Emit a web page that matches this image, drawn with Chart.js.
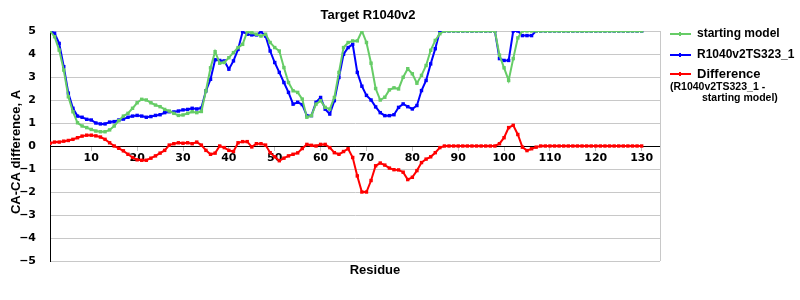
<!DOCTYPE html>
<html>
<head>
<meta charset="utf-8">
<script src="https://cdn.jsdelivr.net/npm/chart.js@4"></script>
<style>
  html, body { margin: 0; padding: 0; background: #fff; }
  #wrap { width: 800px; height: 300px; }
</style>
</head>
<body>
<div id="wrap"><canvas id="chart" width="800" height="300"></canvas></div>
<script>
var residues = [];
for (var i = 1; i <= 130; i++) residues.push(i);

var startingModel = [
  5.0, 4.75, 4.17, 3.3, 2.14, 1.49, 1.01, 0.87, 0.8, 0.72,
  0.65, 0.62, 0.62, 0.7, 0.87, 1.1, 1.3, 1.42, 1.64, 1.88,
  2.03, 2.0, 1.88, 1.78, 1.71, 1.59, 1.52, 1.42, 1.33, 1.35,
  1.42, 1.49, 1.45, 1.5, 2.4, 3.4, 4.1, 3.6, 3.63, 3.84,
  4.06, 4.28, 4.42, 4.97, 4.93, 4.86, 4.78, 4.86, 4.5, 4.28,
  4.13, 3.41, 2.76, 2.4, 2.33, 2.04, 1.25, 1.32, 1.82, 1.97,
  1.68, 1.6, 2.11, 3.2, 4.28, 4.5, 4.57, 4.57, 5.0, 4.5,
  3.6, 2.5, 2.0, 2.12, 2.44, 2.53, 2.48, 2.99, 3.36, 3.14,
  2.73, 3.07, 3.5, 4.16, 4.59, 4.88, 5, 5, 5, 5,
  5, 5, 5, 5, 5, 5, 5, 5, 3.95, 3.4,
  2.85, 3.8, 4.7, 5, 5, 5, 5, 5, 5, 5,
  5, 5, 5, 5, 5, 5, 5, 5, 5, 5,
  5, 5, 5, 5, 5, 5, 5, 5, 5, 5
];

var modelTS323 = [
  5.0, 4.9, 4.46, 3.45, 2.3, 1.64, 1.3, 1.25, 1.16, 1.13,
  1.0, 0.96, 0.96, 1.04, 1.06, 1.13, 1.17, 1.25, 1.3, 1.33,
  1.3, 1.25, 1.28, 1.33, 1.36, 1.45, 1.49, 1.48, 1.52, 1.57,
  1.59, 1.64, 1.61, 1.65, 2.4, 2.9, 3.75, 3.72, 3.7, 3.34,
  3.7, 4.2, 4.97, 4.86, 4.83, 4.83, 4.97, 4.78, 4.13, 3.63,
  3.2, 2.76, 2.33, 1.82, 1.9, 1.8, 1.32, 1.32, 1.9, 2.11,
  1.6, 1.39, 1.97, 2.98, 3.99, 4.28, 4.42, 3.2, 2.6, 2.2,
  2.0, 1.7, 1.45, 1.32, 1.32, 1.36, 1.68, 1.83, 1.71, 1.61,
  1.76, 2.41, 2.85, 3.57, 4.23, 5, 5, 5, 5, 5,
  5, 5, 5, 5, 5, 5, 5, 5, 3.8, 3.72,
  3.72, 5, 5, 4.8, 4.8, 4.8, 5, 5, 5, 5,
  5, 5, 5, 5, 5, 5, 5, 5, 5, 5,
  5, 5, 5, 5, 5, 5, 5, 5, 5, 5
];

var difference = [
  0.12, 0.17, 0.17, 0.21, 0.24, 0.29, 0.36, 0.43, 0.47, 0.47,
  0.44, 0.39, 0.29, 0.14, 0.0, -0.1, -0.21, -0.36, -0.5, -0.6,
  -0.62, -0.62, -0.53, -0.43, -0.31, -0.19, 0.04, 0.1, 0.14, 0.12,
  0.14, 0.1, 0.17, 0.04, -0.19, -0.36, -0.31, 0.0, -0.07, -0.19,
  -0.24, 0.14, 0.19, 0.19, -0.04, 0.1, 0.1, 0.04, -0.29, -0.47,
  -0.64, -0.53, -0.43, -0.36, -0.3, -0.11, 0.07, 0.03, 0.0, 0.07,
  0.07, -0.07, -0.29, -0.36, -0.24, -0.12, -0.5, -1.3, -2.0, -2.0,
  -1.5, -0.86, -0.74, -0.83, -0.96, -1.03, -1.04, -1.14, -1.46, -1.36,
  -1.07, -0.72, -0.57, -0.47, -0.29, -0.07, 0, 0, 0, 0,
  0, 0, 0, 0, 0, 0, 0, 0, 0.1, 0.36,
  0.8, 0.9, 0.5, -0.05, -0.2, -0.12, -0.05, 0, 0, 0,
  0, 0, 0, 0, 0, 0, 0, 0, 0, 0,
  0, 0, 0, 0, 0, 0, 0, 0, 0, 0
];

var xTicks = [10, 20, 30, 40, 50, 60, 70, 80, 90, 100, 110, 120, 130];

var seriesNames = ['starting model', 'R1040v2TS323_1', 'Difference'];
var seriesColors = ['#66cc66', '#0000ff', '#ff0000'];

function toPoints(values) {
  return values.map(function (v, i) { return { x: residues[i], y: v }; });
}

function makeSet(idx, values) {
  return {
    label: seriesNames[idx],
    data: toPoints(values),
    borderColor: seriesColors[idx],
    backgroundColor: seriesColors[idx],
    borderWidth: 2,
    pointRadius: 1,
    pointHoverRadius: 1,
    pointStyle: 'rect',
    tension: 0,
    fill: false
  };
}

var tickFont = { family: 'DejaVu Sans', size: 11, weight: 'bold' };
var labelFont = 'Liberation Sans, Arial, sans-serif';

var textPlugin = {
  id: 'texts',
  afterDraw: function (chart) {
    var ctx = chart.ctx;
    var area = chart.chartArea;
    ctx.save();

    // right border of the plot
    ctx.strokeStyle = '#c8c8c8';
    ctx.lineWidth = 1;
    ctx.beginPath();
    ctx.moveTo(area.right + 0.5, area.top);
    ctx.lineTo(area.right + 0.5, area.bottom);
    ctx.stroke();

    ctx.fillStyle = '#000';
    ctx.textBaseline = 'middle';
    ctx.textAlign = 'center';
    ctx.font = 'bold 13px ' + labelFont;
    ctx.fillText('Target R1040v2', 368, 15);
    ctx.fillText('Residue', 375, 270);

    ctx.save();
    ctx.translate(16, 152);
    ctx.rotate(-Math.PI / 2);
    ctx.fillText('CA-CA difference, A', 0, 0);
    ctx.restore();

    // legend
    var rows = [34, 55, 74];
    for (var k = 0; k < 3; k++) {
      ctx.strokeStyle = seriesColors[k];
      ctx.fillStyle = seriesColors[k];
      ctx.lineWidth = 2;
      ctx.beginPath();
      ctx.moveTo(670, rows[k]);
      ctx.lineTo(691, rows[k]);
      ctx.stroke();
      ctx.fillRect(679, rows[k] - 2, 2, 4);
      ctx.fillStyle = '#000';
      ctx.textAlign = 'left';
      ctx.font = 'bold ' + (k === 2 ? 13 : 12) + 'px ' + labelFont;
      ctx.fillText(seriesNames[k], 697, rows[k]);
    }
    ctx.font = 'bold 10.5px ' + labelFont;
    ctx.fillText('(R1040v2TS323_1 -', 670, 87);
    ctx.fillText('starting model)', 702, 98);
    ctx.restore();
  }
};

new Chart(document.getElementById('chart').getContext('2d'), {
  type: 'line',
  data: {
    datasets: [
      makeSet(0, startingModel),
      makeSet(1, modelTS323),
      makeSet(2, difference)
    ]
  },
  options: {
    responsive: false,
    animation: false,
    layout: { padding: { left: 0, right: 140, top: 31, bottom: 39 } },
    plugins: {
      legend: { display: false },
      title: { display: false },
      tooltip: { enabled: false }
    },
    scales: {
      x: {
        type: 'linear',
        position: { y: 0 },
        min: 1,
        max: 134,
        afterBuildTicks: function (scale) {
          scale.ticks = xTicks.map(function (v) { return { value: v }; });
        },
        afterFit: function (scale) { scale.height = 0; },
        border: { display: true, color: '#000', width: 1 },
        grid: { drawOnChartArea: false, drawTicks: true, tickLength: 4, color: '#c0c0c0' },
        ticks: { font: tickFont, color: '#000', padding: 2, maxRotation: 0, autoSkip: false }
      },
      y: {
        min: -5,
        max: 5,
        afterFit: function (scale) { scale.width = 50; },
        border: { display: true, color: '#000', width: 1 },
        grid: {
          drawTicks: false,
          color: function (c) { return c.tick && c.tick.value === 0 ? '#000' : '#c8c8c8'; }
        },
        ticks: {
          stepSize: 1,
          font: tickFont,
          color: '#000',
          padding: 14,
          callback: function (v) { return String(v).replace('-', '\u2212'); }
        }
      }
    }
  },
  plugins: [textPlugin]
});
</script>
</body>
</html>
